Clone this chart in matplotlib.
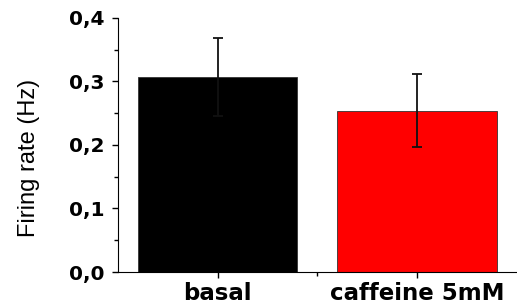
import matplotlib.pyplot as plt
from matplotlib.ticker import MultipleLocator, FuncFormatter

# data
conditions = ["basal", "caffeine 5mM"]
firing_rate = [0.307, 0.254]
firing_sem = [0.062, 0.058]
bar_colors = ["#000000", "#ff0000"]

plt.rcParams["font.family"] = ["Liberation Sans", "DejaVu Sans"]

fig = plt.figure(figsize=(5.17, 3.07), dpi=100)
ax = fig.add_axes([0.228, 0.114, 0.772, 0.828])

positions = [1, 2]
ax.bar(
    positions,
    firing_rate,
    width=0.8,
    color=bar_colors,
    edgecolor="#333333",
    linewidth=0.6,
    yerr=firing_sem,
    error_kw={"ecolor": "#111111", "elinewidth": 1.3, "capsize": 3.5, "capthick": 1.3},
)

ax.set_xlim(0.5, 2.5)
ax.set_ylim(0, 0.4)

ax.set_xticks(positions)
ax.set_xticklabels(conditions, fontsize=16.5, fontweight="bold", family="DejaVu Sans")
ax.set_xticks([1.5], minor=True)

ax.yaxis.set_major_locator(MultipleLocator(0.1))
ax.yaxis.set_minor_locator(MultipleLocator(0.05))
ax.yaxis.set_major_formatter(FuncFormatter(lambda v, p: f"{v:.1f}".replace(".", ",")))
ax.set_yticks([0, 0.1, 0.2, 0.3, 0.4])
for lab in ax.get_yticklabels():
    lab.set_fontsize(14.5)
    lab.set_fontweight("bold")
    lab.set_family("DejaVu Sans")

ax.tick_params(which="major", direction="out", length=4.3, width=1)
ax.tick_params(which="minor", direction="out", length=3, width=1)
ax.tick_params(axis="x", pad=3)
ax.tick_params(axis="y", pad=5)

ax.set_ylabel("Firing rate (Hz)", fontsize=17, family="Liberation Sans")
ax.yaxis.set_label_coords(-0.195, 0.448)

ax.spines["top"].set_visible(False)
ax.spines["right"].set_visible(False)

plt.savefig("out.png", dpi=100)
